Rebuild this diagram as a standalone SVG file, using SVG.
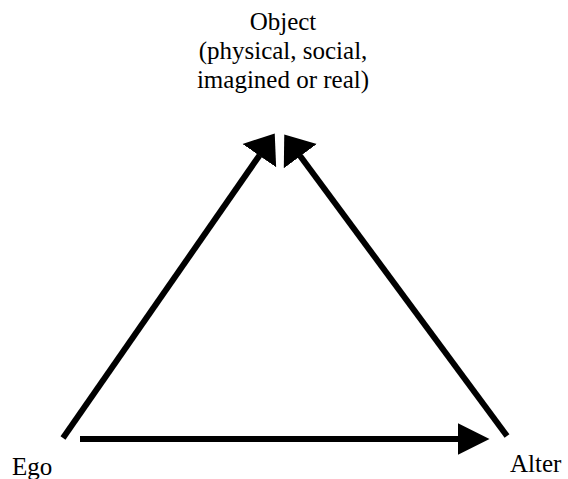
<svg xmlns="http://www.w3.org/2000/svg" width="568" height="479" viewBox="0 0 568 479">
  <style>
    .lbl { font-family: 'Liberation Serif', 'DejaVu Serif', serif; font-size: 25px; fill: #000; }
    .edge { stroke: #000; stroke-width: 6; fill: none; }
  </style>
  <defs>
    <marker id="headD" markerUnits="userSpaceOnUse" orient="auto" viewBox="0 -21 27 42" markerWidth="27" markerHeight="42" refX="0.5" refY="0">
      <path d="M0,-20.5 L27,0 L0,20.5 Z" fill="#000"/>
    </marker>
    <marker id="headH" markerUnits="userSpaceOnUse" orient="auto" viewBox="0 -17 32 34" markerWidth="32" markerHeight="34" refX="0.5" refY="0">
      <path d="M0,-16 L32,0 L0,16 Z" fill="#000"/>
    </marker>
  </defs>
  <rect width="568" height="479" fill="#fff"/>
  <g id="object">
    <text class="lbl" x="283" y="30" text-anchor="middle" font-family="Liberation Serif, serif">Object</text>
    <text class="lbl" x="283" y="59" text-anchor="middle" font-family="Liberation Serif, serif">(physical, social,</text>
    <text class="lbl" x="283" y="88" text-anchor="middle" font-family="Liberation Serif, serif">imagined or real)</text>
  </g>
  <g id="ego">
    <text class="lbl" x="12" y="475" font-family="Liberation Serif, serif">Ego</text>
  </g>
  <g id="alter">
    <text class="lbl" x="510" y="472" font-family="Liberation Serif, serif">Alter</text>
  </g>
  <g id="connectors">
    <line class="edge" x1="63" y1="438" x2="259.6" y2="155.2" marker-end="url(#headD)"/>
    <line class="edge" x1="507" y1="436" x2="300" y2="155.7" marker-end="url(#headD)"/>
    <line class="edge" x1="80" y1="439" x2="458" y2="439" stroke-width="7" marker-end="url(#headH)"/>
  </g>
</svg>
